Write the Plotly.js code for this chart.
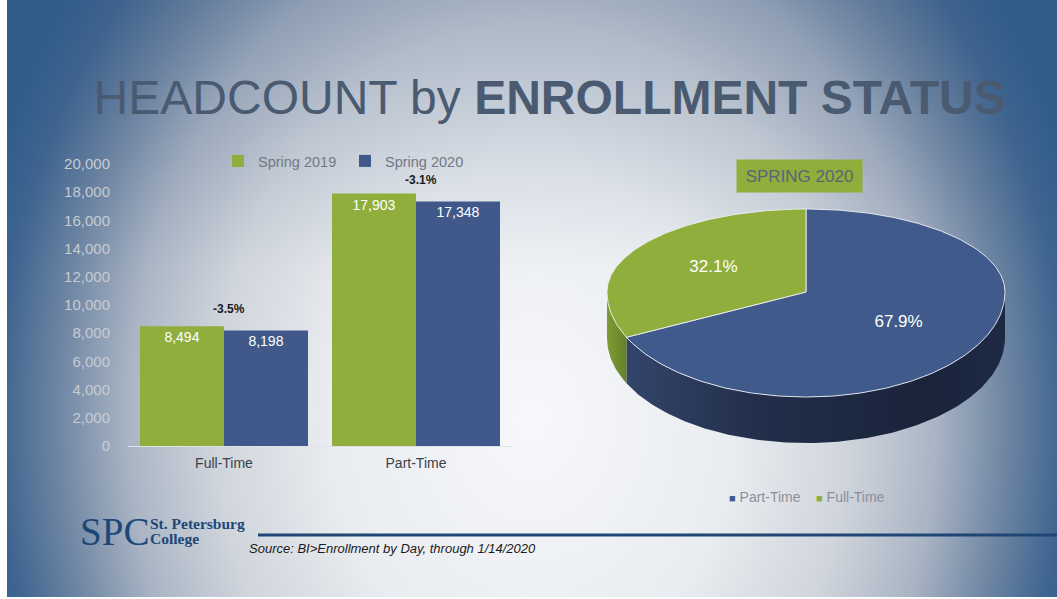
<!DOCTYPE html>
<html><head><meta charset="utf-8">
<script src="https://cdn.plot.ly/plotly-3.0.1.min.js"></script>
<style>
html,body{margin:0;padding:0;background:#fff;width:1057px;height:599px;overflow:hidden}
#bg{position:absolute;left:7px;top:0;width:1050px;height:597px;
 background:
  linear-gradient(to bottom, rgba(60,90,130,0.25) 0%, rgba(60,90,130,0) 45%),
  radial-gradient(ellipse 55% 120% at 50% 70%, #f7f8fa 0%, #e9ecf0 35%, #d0d5dc 55%, #a9b4c4 70%, #6f86a3 82%, #3f6590 92%, #2d5c8c 100%);}
#chart{position:absolute;left:0;top:0;width:1057px;height:599px}
</style></head><body><div id="bg"></div><div id="chart"></div>
<script>
// ---- data ----
const categories = ['Full-Time', 'Part-Time'];
const seriesNames = ['Spring 2019', 'Spring 2020'];
const spring2019 = [8494, 17903];
const spring2020 = [8198, 17348];
const yTickVals = [0, 2000, 4000, 6000, 8000, 10000, 12000, 14000, 16000, 18000, 20000];
const pieTitle = 'SPRING 2020';
const pieLabels = ['Part-Time', 'Full-Time'];
const pieValues = [17348, 8198];

// ---- styles ----
const GREEN = '#8fae3b', BLUE = '#40598a';
const FONT = 'Liberation Sans, Arial, sans-serif';
const SERIF = 'Liberation Serif, Times New Roman, serif';
const PIE = {ryFar: 83/199, ryNear: 105/199, depth: 46/199, step: 1, labelR: 0.55};
const pieTopColors = {'Part-Time': '#405a8b', 'Full-Time': '#8fae3b'};
const pieRimColors = {'Part-Time': '#1d2942', 'Full-Time': '#6c8a2c'};
const pieRimGradients = {
  'Part-Time': [[0, '#34456a'], [0.35, '#222e4a'], [0.8, '#19233a'], [1, '#1e2a44']],
  'Full-Time': [[0, '#7d9c34'], [1, '#64812a']]
};

const fmt = v => v.toLocaleString('en-US');
const traces = [];

[spring2019, spring2020].forEach((vals, k) => {
  traces.push({type: 'bar', name: seriesNames[k], x: categories, y: vals,
    marker: {color: k === 0 ? GREEN : BLUE}, text: vals.map(fmt), textposition: 'inside',
    insidetextanchor: 'end', textangle: 0, constraintext: 'none',
    textfont: {color: '#ffffff', size: 14, family: FONT}, xaxis: 'x', yaxis: 'y'});
});

// ---- pseudo-3D pie (built from the pie values) ----
function pt(phi, drop) {
  const r = phi * Math.PI / 180;
  const c = Math.cos(r);
  return [Math.sin(r), c * (c > 0 ? PIE.ryFar : PIE.ryNear) - drop];
}
function arc(a, b, drop) {
  const out = [];
  const n = Math.max(2, Math.ceil(Math.abs(b - a) / PIE.step));
  for (let i = 0; i <= n; i++) out.push(pt(a + (b - a) * i / n, drop));
  return out;
}
const total = pieValues.reduce((s, v) => s + v, 0);
let start = 0;
const slices = pieValues.map((v, i) => {
  const a = start, b = start + v / total * 360;
  start = b;
  return {label: pieLabels[i], value: v, a, b};
});
slices.forEach(s => {
  const lo = Math.max(s.a, 90), hi = Math.min(s.b, 270);
  if (hi <= lo) return;
  const pts = arc(lo, hi, 0).concat(arc(hi, lo, PIE.depth));
  pts.push(pts[0]);
  traces.push({type: 'scatter', mode: 'lines', x: pts.map(p => p[0]), y: pts.map(p => p[1]),
    fill: 'toself', fillcolor: pieRimColors[s.label],
    fillgradient: {type: 'horizontal', colorscale: pieRimGradients[s.label]},
    line: {width: 0, color: pieRimColors[s.label]},
    showlegend: false, hoverinfo: 'skip', xaxis: 'x2', yaxis: 'y2'});
});
slices.forEach(s => {
  const pts = [[0, 0]].concat(arc(s.a, s.b, 0));
  pts.push([0, 0]);
  traces.push({type: 'scatter', mode: 'lines', name: s.label, x: pts.map(p => p[0]), y: pts.map(p => p[1]),
    fill: 'toself', fillcolor: pieTopColors[s.label], line: {width: 1, color: 'rgba(235,240,245,0.9)'},
    showlegend: false, hoverinfo: 'skip', xaxis: 'x2', yaxis: 'y2'});
});
traces.push({type: 'scatter', mode: 'text', showlegend: false, hoverinfo: 'skip',
  x: slices.map(s => PIE.labelR * Math.sin((s.a + s.b) / 2 * Math.PI / 180)),
  y: slices.map(s => { const c = Math.cos((s.a + s.b) / 2 * Math.PI / 180); return PIE.labelR * c * (c > 0 ? PIE.ryFar : PIE.ryNear); }),
  text: slices.map(s => (s.value / total * 100).toFixed(1) + '%'),
  textfont: {color: '#ffffff', size: 17, family: FONT}, xaxis: 'x2', yaxis: 'y2'});

// ---- annotations ----
const annotations = categories.map((c, i) => ({
  x: c, y: spring2020[i], xref: 'x', yref: 'y', xanchor: 'center', yanchor: 'bottom', yshift: 12, xshift: 5,
  text: ((spring2020[i] - spring2019[i]) / spring2019[i] * 100).toFixed(1) + '%',
  showarrow: false, font: {size: 12, color: '#1a1a1a', family: FONT, weight: 'bold'}
}));
annotations.push({x: 799.5/1057, y: 1 - 176/599, xref: 'paper', yref: 'paper', xanchor: 'center', yanchor: 'middle',
  text: pieTitle, showarrow: false, bgcolor: GREEN, width: 119, height: 26, borderpad: 3,
  font: {size: 17, color: '#56667a', family: FONT}});
annotations.push({x: 727/1057, y: 1 - 497/599, xref: 'paper', yref: 'paper', xanchor: 'left', yanchor: 'middle',
  text: pieLabels.map(l => '<span style="color:' + pieTopColors[l] + ';font-size:11px">■</span> ' + l).join('    '),
  showarrow: false, font: {size: 14, color: '#8a909b', family: FONT}});
annotations.push({x: 78/1057, y: 1 - 531/599, xref: 'paper', yref: 'paper', xanchor: 'left', yanchor: 'middle',
  text: 'SPC', showarrow: false, font: {size: 39, color: '#1c4778', family: SERIF}});
annotations.push({x: 148/1057, y: 1 - 523/599, xref: 'paper', yref: 'paper', xanchor: 'left', yanchor: 'middle',
  text: '<b>St. Petersburg</b>', showarrow: false, font: {size: 15.5, color: '#1c4778', family: SERIF}});
annotations.push({x: 148/1057, y: 1 - 538/599, xref: 'paper', yref: 'paper', xanchor: 'left', yanchor: 'middle',
  text: '<b>College</b>', showarrow: false, font: {size: 15.5, color: '#1c4778', family: SERIF}});
annotations.push({x: 247/1057, y: 1 - 548/599, xref: 'paper', yref: 'paper', xanchor: 'left', yanchor: 'middle',
  text: '<i>Source: BI>Enrollment by Day, through 1/14/2020</i>', showarrow: false,
  font: {size: 13, color: '#1a1a1a', family: FONT}});

const layout = {
  width: 1057, height: 599, margin: {l: 0, r: 0, t: 0, b: 0},
  paper_bgcolor: 'rgba(0,0,0,0)', plot_bgcolor: 'rgba(0,0,0,0)',
  font: {family: FONT},
  title: {text: 'HEADCOUNT by <b>ENROLLMENT STATUS</b>', x: 0.52, xanchor: 'center', y: 1 - 97/599, yanchor: 'middle',
    font: {size: 48, color: '#4a5a70', family: FONT}},
  barmode: 'group', bargap: 0.125, bargroupgap: 0,
  xaxis: {domain: [128/1057, 512/1057], range: [-0.5, 1.5], type: 'category', showline: true, linecolor: '#dfe3e8', linewidth: 1,
    ticks: 'outside', ticklen: 4, tickcolor: 'rgba(0,0,0,0)', showgrid: false, zeroline: false,
    tickfont: {size: 14, color: '#3b4049'}},
  yaxis: {domain: [1 - 446/599, 1 - 164/599], range: [0, 20000], tickvals: yTickVals, tickformat: ',d',
    showgrid: false, zeroline: false, showline: false, ticks: 'outside', ticklen: 14, tickcolor: 'rgba(0,0,0,0)',
    tickfont: {size: 15, color: '#c6cbd3'}},
  xaxis2: {domain: [596/1057, 1016/1057], range: [-210/199, 210/199], visible: false, fixedrange: true},
  yaxis2: {domain: [1 - 470/599, 1 - 190/599], range: [-178/199, 102/199], visible: false, fixedrange: true},
  legend: {orientation: 'h', x: 218/1057, y: 1 - 161/599, xanchor: 'left', yanchor: 'middle',
    font: {size: 14.5, color: '#727883'}, bgcolor: 'rgba(0,0,0,0)', itemwidth: 30, traceorder: 'normal',
    entrywidth: 82, entrywidthmode: 'pixels'},
  shapes: [{type: 'line', xref: 'paper', yref: 'paper', x0: 258/1057, x1: 1, y0: 1 - 535/599, y1: 1 - 535/599,
    line: {color: '#1f4675', width: 3}}],
  annotations: annotations,
  hovermode: false
};
Plotly.newPlot('chart', traces, layout, {staticPlot: true, displayModeBar: false});
</script></body></html>
